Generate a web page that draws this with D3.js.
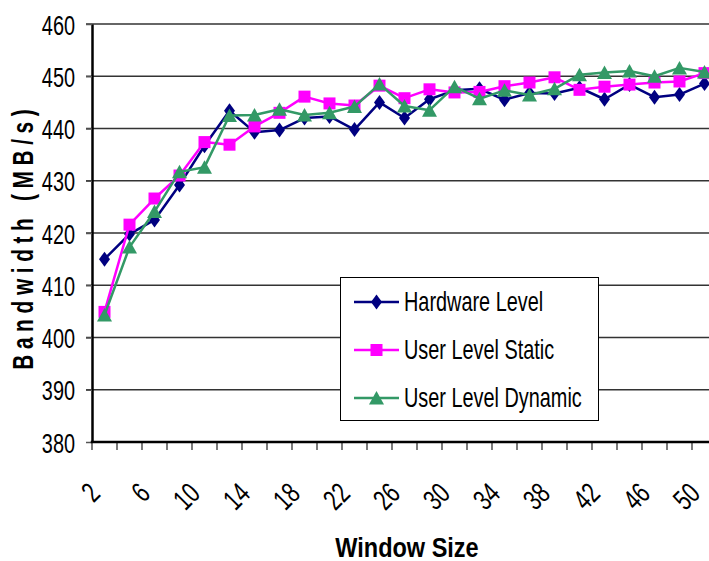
<!DOCTYPE html>
<html>
<head>
<meta charset="utf-8">
<script src="https://cdn.jsdelivr.net/npm/d3@7"></script>
<style>
  html, body { margin: 0; padding: 0; background: #fff; }
  svg { display: block; font-family: "Liberation Sans", Arial, sans-serif; }
</style>
</head>
<body>
<svg id="chart" width="709" height="561"></svg>
<script>
// Window sizes on the x axis
const windowSizes = [2, 4, 6, 8, 10, 12, 14, 16, 18, 20, 22, 24, 26, 28, 30, 32, 34, 36, 38, 40, 42, 44, 46, 48, 50];
// Labelled window sizes (every other category)
const xTickLabels = [2, 6, 10, 14, 18, 22, 26, 30, 34, 38, 42, 46, 50];
// Bandwidth ticks (MB/s)
const yTicks = [380, 390, 400, 410, 420, 430, 440, 450, 460];

// Measured bandwidth, MB/s
const hardwareLevel = [415.0, 419.8, 422.5, 429.2, 436.7, 443.4, 439.3, 439.7, 442.0, 442.3, 439.8, 445.0, 442.0, 445.6, 447.3, 447.6, 445.5, 446.8, 446.7, 447.8, 445.6, 448.4, 446.0, 446.5, 448.6];
const userLevelStatic = [404.9, 421.6, 426.6, 431.0, 437.4, 436.9, 440.4, 443.0, 446.1, 444.8, 444.4, 448.2, 445.8, 447.5, 446.9, 447.0, 448.1, 448.8, 449.8, 447.4, 448.0, 448.4, 448.8, 449.0, 450.6];
const userLevelDynamic = [404.3, 417.3, 424.1, 431.7, 432.6, 442.5, 442.6, 443.7, 442.6, 443.0, 444.2, 448.5, 444.3, 443.5, 448.0, 445.7, 447.3, 446.4, 447.6, 450.3, 450.7, 451.0, 450.0, 451.6, 450.8];

const seriesNames = ["Hardware Level", "User Level Static", "User Level Dynamic"];
const seriesColors = ["#000080", "#FF00FF", "#339966"];
const seriesShapes = ["diamond", "square", "triangle"];
const seriesValues = [hardwareLevel, userLevelStatic, userLevelDynamic];

const svg = d3.select("#chart");
const plot = { left: 92, right: 717, top: 24, bottom: 442 };

const x = d3.scaleBand().domain(windowSizes).range([plot.left, plot.right]).padding(0);
const y = d3.scaleLinear().domain([380, 460]).range([plot.bottom, plot.top]);
const cx = v => x(v) + x.bandwidth() / 2;

// Marker shapes
function markerPath(shape) {
  if (shape === "diamond") return "M0,-7.5L5.5,0L0,7.5L-5.5,0Z";
  if (shape === "square") return "M-6,-6H6V6H-6Z";
  return "M0,-7L7.5,6.5H-7.5Z";
}

// Horizontal gridlines
svg.append("g")
  .selectAll("line")
  .data(yTicks.filter(t => t !== 380))
  .join("line")
  .attr("x1", plot.left - 6).attr("x2", plot.right)
  .attr("y1", d => y(d)).attr("y2", d => y(d))
  .attr("stroke", "#333").attr("stroke-width", 1.6);

// Y axis
const yAxis = svg.append("g")
  .attr("transform", `translate(${plot.left},0)`)
  .call(d3.axisLeft(y).tickValues(yTicks).tickSize(6).tickSizeOuter(0).tickFormat(d3.format("d")));
yAxis.select(".domain").attr("stroke", "#000").attr("stroke-width", 2.5);
yAxis.selectAll(".tick line").attr("stroke", "#555").attr("stroke-width", 1.5);
yAxis.selectAll(".tick text")
  .attr("x", 0).attr("dy", null)
  .attr("font-size", 28).attr("fill", "#000")
  .attr("text-anchor", "end")
  .attr("transform", "translate(-17,10) scale(0.71,1)");

// X axis: ticks on category boundaries
const xAxisG = svg.append("g");
xAxisG.selectAll("line.tk")
  .data(windowSizes)
  .join("line").attr("class", "tk")
  .attr("x1", d => x(d)).attr("x2", d => x(d))
  .attr("y1", plot.bottom).attr("y2", plot.bottom + 8)
  .attr("stroke", "#333").attr("stroke-width", 1.3);
xAxisG.append("line")
  .attr("x1", plot.left - 1.25).attr("x2", plot.right)
  .attr("y1", plot.bottom).attr("y2", plot.bottom)
  .attr("stroke", "#000").attr("stroke-width", 2.5);
xAxisG.selectAll("text")
  .data(xTickLabels)
  .join("text")
  .attr("transform", d => `translate(${cx(d) - 10},488) rotate(-45) scale(0.72,1)`)
  .attr("text-anchor", "end")
  .attr("dy", "0.35em")
  .attr("font-size", 29)
  .attr("fill", "#000")
  .text(d => d);

// Axis titles
svg.append("text")
  .attr("transform", "translate(407,557) scale(0.87,1)")
  .attr("text-anchor", "middle")
  .attr("font-size", 27).attr("font-weight", "bold")
  .text("Window Size");

svg.append("text")
  .attr("transform", "translate(33,239.5) rotate(-90) scale(0.72,1)")
  .attr("text-anchor", "middle")
  .attr("font-size", 29).attr("font-weight", "bold")
  .attr("textLength", 362).attr("lengthAdjust", "spacing")
  .text("Bandwidth (MB/s)");

// Series lines and markers
const line = d3.line().x((d, i) => cx(windowSizes[i])).y(d => y(d));
seriesValues.forEach((vals, s) => {
  const g = svg.append("g");
  g.append("path")
    .datum(vals)
    .attr("d", line)
    .attr("fill", "none")
    .attr("stroke", seriesColors[s])
    .attr("stroke-width", 2.5)
    .attr("stroke-linejoin", "round");
  g.selectAll("path.m")
    .data(vals)
    .join("path").attr("class", "m")
    .attr("d", markerPath(seriesShapes[s]))
    .attr("transform", (d, i) => `translate(${cx(windowSizes[i])},${y(d)})`)
    .attr("fill", seriesColors[s]);
});

// Legend
const legend = svg.append("g");
legend.append("rect")
  .attr("x", 340.5).attr("y", 277.5).attr("width", 258).attr("height", 143)
  .attr("fill", "#fff").attr("stroke", "#000").attr("stroke-width", 1);
seriesNames.forEach((name, s) => {
  const ly = 302 + s * 48;
  legend.append("line")
    .attr("x1", 354).attr("x2", 399).attr("y1", ly).attr("y2", ly)
    .attr("stroke", seriesColors[s]).attr("stroke-width", 2.5);
  legend.append("path")
    .attr("d", markerPath(seriesShapes[s]))
    .attr("transform", `translate(376.5,${ly})`)
    .attr("fill", seriesColors[s]);
  legend.append("text")
    .attr("transform", `translate(404,${ly + 9}) scale(0.71,1)`)
    .attr("font-size", 28).attr("fill", "#000")
    .text(name);
});
</script>
</body>
</html>
